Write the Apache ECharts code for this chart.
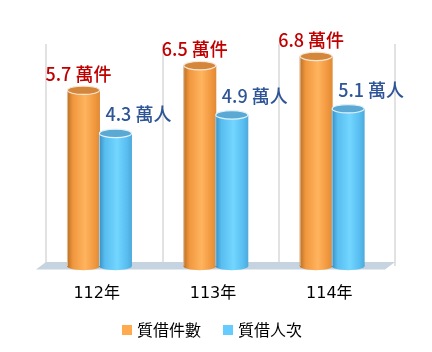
<!DOCTYPE html>
<html>
<head>
<meta charset="utf-8">
<script src="https://cdn.jsdelivr.net/npm/echarts@6/dist/echarts.min.js"></script>
<style>
  html, body { margin: 0; padding: 0; background: #ffffff; }
  #chart { width: 432px; height: 352px; }
</style>
</head>
<body>
<div id="chart"></div>
<script>
// Yearly figures (unit: 10,000)
const years = ['112年', '113年', '114年'];
const loanCases = [5.7, 6.5, 6.8];     // 質借件數 (萬件)
const loanPersons = [4.3, 4.9, 5.1];   // 質借人次 (萬人)
const seriesNames = ['質借件數', '質借人次'];
const units = ['萬件', '萬人'];

const FONT = '"DejaVu Sans", "Noto Sans CJK TC", "Noto Sans CJK SC", sans-serif';
const CJK_FONT = '"Noto Sans CJK TC", "Noto Sans CJK SC", sans-serif';

// Cylinder palette per series
const palettes = [
  { legend: '#FFAA4F', edge: '#B86E24', mid: '#F0973E', bright: '#FFB45E', right: '#DE8A36',
    top: '#D4863A', topEdge: '#F6E7D6', label: '#C00000' },
  { legend: '#66CCFF', edge: '#3A8CBE', mid: '#58BDF0', bright: '#72D6FF', right: '#4FA9DA',
    top: '#5AA9D4', topEdge: '#E2F1FA', label: '#2F5597' }
];

const BAR_W = 33;
const RY = 4.2;
const DEPTH_SHIFT = -4.7;   // bars sit slightly forward of the back wall

function cylinderRenderer(seriesIdx) {
  const pal = palettes[seriesIdx];
  const offset = seriesIdx === 0 ? -16 : 16;
  return function (params, api) {
    const cat = api.value(0);
    const val = api.value(1);
    const top = api.coord([cat, val]);
    const base = api.coord([cat, 0]);
    const cx = top[0] + DEPTH_SHIFT + offset;
    const yTop = top[1];
    const yBot = base[1];
    const x0 = cx - BAR_W / 2;
    const bodyFill = new echarts.graphic.LinearGradient(0, 0, 1, 0, [
      { offset: 0, color: pal.edge },
      { offset: 0.18, color: pal.mid },
      { offset: 0.55, color: pal.bright },
      { offset: 0.85, color: pal.mid },
      { offset: 1, color: pal.right }
    ]);
    const labelX = seriesIdx === 0 ? cx - 5 : cx + 23;
    const labelY = seriesIdx === 0 ? yTop - 16 : yTop - 19;
    return {
      type: 'group',
      children: [
        { type: 'ellipse', shape: { cx: cx, cy: yBot, rx: BAR_W / 2, ry: RY },
          style: { fill: bodyFill } },
        { type: 'rect', shape: { x: x0, y: yTop, width: BAR_W, height: yBot - yTop },
          style: { fill: bodyFill } },
        { type: 'line', shape: { x1: x0 + 0.5, y1: yTop, x2: x0 + 0.5, y2: yBot },
          style: { stroke: 'rgba(255,255,255,0.55)', lineWidth: 1 } },
        { type: 'ellipse', shape: { cx: cx, cy: yTop, rx: BAR_W / 2 - 0.5, ry: RY },
          style: { fill: pal.top, stroke: pal.topEdge, lineWidth: 1.2 } },
        { type: 'text', x: labelX, y: labelY,
          style: { text: val + ' ' + units[seriesIdx], fill: pal.label,
                   font: '500 18px ' + CJK_FONT, align: 'center', verticalAlign: 'middle' } }
      ]
    };
  };
}

function toData(values) {
  return values.map((v, i) => [i, v]);
}

const chart = echarts.init(document.getElementById('chart'), null, { renderer: 'canvas' });
chart.setOption({
  backgroundColor: '#ffffff',
  animation: false,
  grid: { left: 46, right: 37, top: 44, bottom: 86 },
  xAxis: {
    type: 'category',
    data: years,
    boundaryGap: true,
    axisLine: { show: false },
    axisTick: { show: false },
    splitLine: { show: true, lineStyle: { color: '#D9D9D9', width: 1.5 } },
    axisLabel: { color: '#000000', fontSize: 16, fontFamily: FONT, margin: 20, padding: [0, 15, 0, 0] }
  },
  yAxis: {
    type: 'value',
    min: 0,
    max: 7.2,
    show: false,
    splitLine: { show: false }
  },
  legend: {
    left: 117,
    top: 317,
    icon: 'rect',
    itemWidth: 10,
    itemHeight: 10,
    itemGap: 22,
    textStyle: { color: '#000000', fontSize: 16, fontFamily: CJK_FONT },
    data: seriesNames
  },
  graphic: [
    {
      // floor of the plot area
      type: 'polygon',
      z: 1,
      shape: { points: [[46, 262], [395, 262], [385, 269.5], [36, 269.5]] },
      style: { fill: '#C6D3E0' }
    }
  ],
  series: [
    {
      name: seriesNames[0],
      type: 'custom',
      z: 5,
      itemStyle: { color: palettes[0].legend },
      renderItem: cylinderRenderer(0),
      encode: { x: 0, y: 1 },
      data: toData(loanCases)
    },
    {
      name: seriesNames[1],
      type: 'custom',
      z: 6,
      itemStyle: { color: palettes[1].legend },
      renderItem: cylinderRenderer(1),
      encode: { x: 0, y: 1 },
      data: toData(loanPersons)
    }
  ]
});
</script>
</body>
</html>
